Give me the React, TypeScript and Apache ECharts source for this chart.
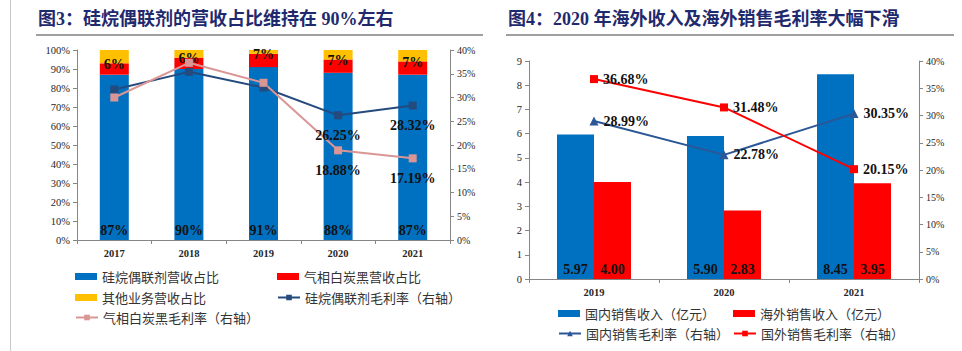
import React, { useEffect, useRef } from "react";
import * as echarts from "echarts";

// ---- Left chart data (图3) ----
const leftYears = ["2017", "2018", "2019", "2020", "2021"];
const silaneShare = [87, 90, 91, 88, 87];
const silicaShare = [6, 6, 7, 7, 7];
const otherShare = [7, 4, 2, 5, 6];
const silaneMargin = [31.7, 35.4, 32.1, 26.25, 28.32];
const silicaMargin = [30.0, 37.3, 33.1, 18.88, 17.19];
const labelledMarginYears = ["2020", "2021"];

// ---- Right chart data (图4) ----
const rightYears = ["2019", "2020", "2021"];
const domesticRevenue = [5.97, 5.9, 8.45];
const overseasRevenue = [4.0, 2.83, 3.95];
const domesticMargin = [28.99, 22.78, 30.35];
const overseasMargin = [36.68, 31.48, 20.15];

const SERIF = '"Liberation Serif","Times New Roman","Noto Sans CJK SC",serif';
const CJK = '"Noto Sans CJK SC","Noto Sans CJK JP",sans-serif';
const AXIS_COLOR = "#868686";
const TEXT_COLOR = "#262626";

const axisLabelBase = {
  fontFamily: SERIF,
  fontSize: 10.5,
  color: TEXT_COLOR,
};

function valueAxis(gridIndex: number, max: number, interval: number, pos: "left" | "right", pct: boolean, fontSize = 10.5) {
  return {
    type: "value",
    gridIndex,
    position: pos,
    min: 0,
    max,
    interval,
    splitLine: { show: false },
    axisLine: { show: true, lineStyle: { color: AXIS_COLOR, width: 1 } },
    axisTick: { show: true, length: 4, inside: false, lineStyle: { color: AXIS_COLOR } },
    axisLabel: {
      ...axisLabelBase,
      fontSize,
      margin: 7,
      formatter: pct ? "{value}%" : "{value}",
    },
  };
}

function catAxis(gridIndex: number, data: string[]) {
  return {
    type: "category",
    gridIndex,
    data,
    boundaryGap: true,
    axisLine: { show: true, lineStyle: { color: AXIS_COLOR, width: 1 } },
    axisTick: { show: true, length: 4, lineStyle: { color: AXIS_COLOR } },
    axisLabel: { ...axisLabelBase, fontWeight: "bold", fontSize: 10.5, margin: 8 },
  };
}

const valueLabel = {
  fontFamily: SERIF,
  fontSize: 14,
  fontWeight: "bold",
  color: "#111",
};

function legendItem(name: string, left: number, centerY: number, icon?: string) {
  return {
    data: [icon ? { name, icon } : { name }],
    left,
    top: centerY - 7,
    itemWidth: 22,
    itemHeight: 7,
    padding: 0,
    textStyle: { fontFamily: CJK, fontSize: 13, color: "#333" },
  };
}

export default function App() {
  const ref = useRef<HTMLDivElement>(null);

  useEffect(() => {
    if (!ref.current) return;
    const chart = echarts.init(ref.current, undefined, { renderer: "svg" });

    const marginData = (vals: number[]) =>
      vals.map((v, i) =>
        labelledMarginYears.includes(leftYears[i]) ? { value: v, label: { show: true } } : { value: v }
      );

    const option: any = {
      animation: false,
      backgroundColor: "#ffffff",
      title: [
        {
          text: "图3：硅烷偶联剂的营收占比维持在 90%左右",
          left: 38,
          top: 10,
          padding: 0,
          textStyle: { fontFamily: SERIF, fontSize: 18, fontWeight: "bold", color: "#1F2A6E" },
        },
        {
          text: "图4：2020 年海外收入及海外销售毛利率大幅下滑",
          left: 508,
          top: 10,
          padding: 0,
          textStyle: { fontFamily: SERIF, fontSize: 18, fontWeight: "bold", color: "#1F2A6E" },
        },
      ],
      graphic: [
        { type: "line", shape: { x1: 10.5, y1: 0, x2: 10.5, y2: 351 }, style: { stroke: "#c8c8c8", lineWidth: 1 } },
        { type: "line", shape: { x1: 36, y1: 35, x2: 483, y2: 35 }, style: { stroke: "#7f7f7f", lineWidth: 1.5 } },
        { type: "line", shape: { x1: 506, y1: 35, x2: 954, y2: 35 }, style: { stroke: "#7f7f7f", lineWidth: 1.5 } },
      ],
      grid: [
        { left: 77, top: 50, width: 373, height: 190 },
        { left: 529, top: 61, width: 390, height: 218 },
      ],
      xAxis: [catAxis(0, leftYears), catAxis(1, rightYears)],
      yAxis: [
        valueAxis(0, 100, 10, "left", true),
        valueAxis(0, 40, 5, "right", true, 10),
        valueAxis(1, 9, 1, "left", false),
        valueAxis(1, 40, 5, "right", true, 10),
      ],
      legend: [
        legendItem("硅烷偶联剂营收占比", 75, 277, "rect"),
        legendItem("气相白炭黑营收占比", 277, 277, "rect"),
        legendItem("其他业务营收占比", 75, 298, "rect"),
        legendItem("硅烷偶联剂毛利率（右轴）", 277, 298),
        legendItem("气相白炭黑毛利率（右轴）", 75, 318),
        legendItem("国内销售收入（亿元）", 558, 314, "rect"),
        legendItem("海外销售收入（亿元）", 733, 314, "rect"),
        legendItem("国内销售毛利率（右轴）", 558, 334),
        legendItem("国外销售毛利率（右轴）", 733, 334),
      ],
      series: [
        {
          name: "硅烷偶联剂营收占比",
          type: "bar",
          xAxisIndex: 0,
          yAxisIndex: 0,
          stack: "share",
          barWidth: 29,
          itemStyle: { color: "#0070C0" },
          label: { show: true, position: "insideBottom", distance: 3, formatter: "{c}%", ...valueLabel },
          data: silaneShare,
        },
        {
          name: "气相白炭黑营收占比",
          type: "bar",
          xAxisIndex: 0,
          yAxisIndex: 0,
          stack: "share",
          barWidth: 29,
          itemStyle: { color: "#FF0000" },
          label: {
            show: true,
            position: ["50%", 1],
            align: "center",
            verticalAlign: "middle",
            formatter: "{c}%",
            ...valueLabel,
          },
          data: silicaShare,
        },
        {
          name: "其他业务营收占比",
          type: "bar",
          xAxisIndex: 0,
          yAxisIndex: 0,
          stack: "share",
          barWidth: 29,
          itemStyle: { color: "#FFC000" },
          data: otherShare,
        },
        {
          name: "硅烷偶联剂毛利率（右轴）",
          type: "line",
          xAxisIndex: 0,
          yAxisIndex: 1,
          symbol: "rect",
          symbolSize: 8,
          z: 5,
          itemStyle: { color: "#254A7E" },
          lineStyle: { color: "#254A7E", width: 2 },
          label: {
            show: false,
            position: "bottom",
            distance: 9,
            formatter: (p: any) => p.value.toFixed(2) + "%",
            ...valueLabel,
          },
          data: marginData(silaneMargin),
        },
        {
          name: "气相白炭黑毛利率（右轴）",
          type: "line",
          xAxisIndex: 0,
          yAxisIndex: 1,
          symbol: "rect",
          symbolSize: 8,
          z: 5,
          itemStyle: { color: "#DA9694" },
          lineStyle: { color: "#DA9694", width: 2 },
          label: {
            show: false,
            position: "bottom",
            distance: 9,
            formatter: (p: any) => p.value.toFixed(2) + "%",
            ...valueLabel,
          },
          data: marginData(silicaMargin),
        },
        {
          name: "国内销售收入（亿元）",
          type: "bar",
          xAxisIndex: 1,
          yAxisIndex: 2,
          barWidth: 37,
          barGap: "0%",
          itemStyle: { color: "#0070C0" },
          label: {
            show: true,
            position: "insideBottom",
            distance: 3,
            formatter: (p: any) => p.value.toFixed(2),
            ...valueLabel,
          },
          data: domesticRevenue,
        },
        {
          name: "海外销售收入（亿元）",
          type: "bar",
          xAxisIndex: 1,
          yAxisIndex: 2,
          barWidth: 37,
          barGap: "0%",
          itemStyle: { color: "#FF0000" },
          label: {
            show: true,
            position: "insideBottom",
            distance: 3,
            formatter: (p: any) => p.value.toFixed(2),
            ...valueLabel,
          },
          data: overseasRevenue,
        },
        {
          name: "国内销售毛利率（右轴）",
          type: "line",
          xAxisIndex: 1,
          yAxisIndex: 3,
          symbol: "triangle",
          symbolSize: 9,
          z: 5,
          itemStyle: { color: "#2B5797" },
          lineStyle: { color: "#2B5797", width: 2 },
          label: {
            show: true,
            position: "right",
            distance: 5,
            formatter: (p: any) => p.value.toFixed(2) + "%",
            ...valueLabel,
          },
          data: domesticMargin,
        },
        {
          name: "国外销售毛利率（右轴）",
          type: "line",
          xAxisIndex: 1,
          yAxisIndex: 3,
          symbol: "rect",
          symbolSize: 8,
          z: 5,
          itemStyle: { color: "#FF0000" },
          lineStyle: { color: "#FF0000", width: 2 },
          label: {
            show: true,
            position: "right",
            distance: 5,
            formatter: (p: any) => p.value.toFixed(2) + "%",
            ...valueLabel,
          },
          data: overseasMargin,
        },
      ],
    };

    chart.setOption(option);
    return () => chart.dispose();
  }, []);

  return (
    <div
      ref={ref}
      style={{ position: "absolute", left: 0, top: 0, width: 962, height: 351, background: "#fff" }}
    />
  );
}
